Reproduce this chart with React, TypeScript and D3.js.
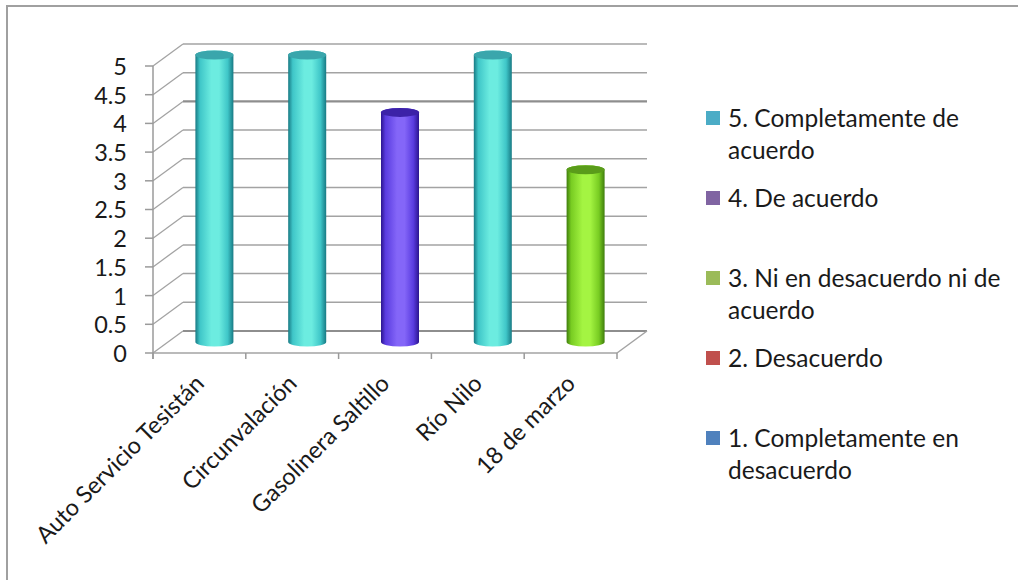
import React from "react";
import * as d3 from "d3";

// Survey results per service station (1–5 Likert scale)
const categories = [
  "Auto Servicio Tesistán",
  "Circunvalación",
  "Gasolinera Saltillo",
  "Río Nilo",
  "18 de marzo",
];
const ratings = [5, 5, 4, 5, 3];

// Legend entries, one per rating level
const legendLevels = [5, 4, 3, 2, 1];
const legendLabels = [
  ["5. Completamente de", "acuerdo"],
  ["4. De acuerdo"],
  ["3. Ni en desacuerdo ni de", "acuerdo"],
  ["2. Desacuerdo"],
  ["1. Completamente en", "desacuerdo"],
];
const legendColors = ["#4bacc6", "#8064a2", "#9bbb59", "#c0504d", "#4f81bd"];

const yTicks = [0, 0.5, 1, 1.5, 2, 2.5, 3, 3.5, 4, 4.5, 5];

// Cylinder shading per rating level: edge, mid, highlight and top cap
const cylinderShades: Record<number, { dark: string; mid: string; light: string; cap: string }> = {
  5: { dark: "#187a84", mid: "#3fc6c8", light: "#6cece0", cap: "#3aa6ac" },
  4: { dark: "#2c1590", mid: "#5a3ce0", light: "#8466f8", cap: "#3c22a8" },
  3: { dark: "#3f7d0c", mid: "#78cc22", light: "#a4f442", cap: "#5a9c1a" },
  2: { dark: "#7a2020", mid: "#b04040", light: "#e07070", cap: "#902c2c" },
  1: { dark: "#1c3f78", mid: "#3c6cb0", light: "#6c9ce0", cap: "#2c5090" },
};

const FONT = "Lato, 'Open Sans', sans-serif";

export default function App() {
  const W = 1018;
  const H = 580;

  // Front plane of the 3-D box and its depth offset
  const x0 = 153;
  const x1 = 617;
  const depthX = 30;
  const depthY = -22;

  const y = d3.scaleLinear().domain([0, 5]).range([353, 66]);
  const x = d3.scaleBand<string>().domain(categories).range([x0, x1]);

  const rx = 19;
  const ry = 4.5;
  const gridColor = "#a3a3a3";

  return (
    <svg
      width={W}
      height={H}
      style={{ position: "fixed", left: 0, top: 0, background: "#fff" }}
      fontFamily={FONT}
    >
      <defs>
        {legendLevels.map((lvl) => {
          const s = cylinderShades[lvl];
          return (
            <linearGradient key={lvl} id={`cyl-${lvl}`} x1="0" x2="1" y1="0" y2="0">
              <stop offset="0" stopColor={s.dark} />
              <stop offset="0.12" stopColor={s.mid} />
              <stop offset="0.42" stopColor={s.light} />
              <stop offset="0.62" stopColor={s.light} />
              <stop offset="0.85" stopColor={s.mid} />
              <stop offset="1" stopColor={s.dark} />
            </linearGradient>
          );
        })}
      </defs>

      {/* chart frame */}
      <rect x={7} y={6} width={1100} height={700} fill="none" stroke="#a0a0a0" strokeWidth={2} />

      {/* back wall gridlines */}
      {yTicks.map((t) => (
        <line
          key={`g${t}`}
          x1={x0 + depthX}
          x2={x1 + depthX}
          y1={y(t) + depthY}
          y2={y(t) + depthY}
          stroke={t === 4 || t === 0 ? "#8e8e8e" : gridColor}
          strokeWidth={t === 4 || t === 0 ? 2.2 : 1.5}
        />
      ))}

      {/* side wall diagonals */}
      {yTicks.map((t) => (
        <line
          key={`s${t}`}
          x1={x0}
          x2={x0 + depthX}
          y1={y(t)}
          y2={y(t) + depthY}
          stroke={gridColor}
          strokeWidth={1.3}
        />
      ))}

      {/* floor */}
      <line x1={x0} x2={x1} y1={y(0)} y2={y(0)} stroke={gridColor} strokeWidth={1.5} />
      <line x1={x1} x2={x1 + depthX} y1={y(0)} y2={y(0) + depthY} stroke={gridColor} strokeWidth={1.5} />

      {/* value axis */}
      <line x1={x0} x2={x0} y1={y(5)} y2={y(0) + 6} stroke="#9a9a9a" strokeWidth={1.5} />
      {yTicks.map((t) => (
        <g key={`yt${t}`}>
          <line x1={x0 - 8} x2={x0} y1={y(t)} y2={y(t)} stroke="#9a9a9a" strokeWidth={1.5} />
          <text
            x={127}
            y={y(t)}
            dy="0.38em"
            textAnchor="end"
            fontSize={23.5}
            fill="#1a1a1a"
          >
            {String(t)}
          </text>
        </g>
      ))}

      {/* category ticks */}
      {d3.range(categories.length + 1).map((i) => {
        const xx = x0 + i * x.step();
        return <line key={`ct${i}`} x1={xx} x2={xx} y1={y(0)} y2={y(0) + 6} stroke="#9a9a9a" strokeWidth={1.5} />;
      })}

      {/* cylinders */}
      {categories.map((c, i) => {
        const v = ratings[i];
        const cx = (x(c) as number) + x.bandwidth() / 2 + depthX / 2;
        const yb = y(0) + depthY / 2;
        const yt = y(v) + depthY / 2;
        const l = cx - rx;
        const r = cx + rx;
        const body = `M${l},${yt} L${l},${yb} A${rx},${ry} 0 0 0 ${r},${yb} L${r},${yt} A${rx},${ry} 0 0 0 ${l},${yt} Z`;
        return (
          <g key={c}>
            <path d={body} fill={`url(#cyl-${v})`} />
            <ellipse cx={cx} cy={yt} rx={rx} ry={ry} fill={cylinderShades[v].cap} />
          </g>
        );
      })}

      {/* category labels */}
      {categories.map((c) => {
        const ax = (x(c) as number) + x.bandwidth() / 2 + 6;
        const ay = 385;
        return (
          <text
            key={`cl${c}`}
            x={ax}
            y={ay}
            textAnchor="end"
            fontSize={23.5}
            fill="#1a1a1a"
            transform={`rotate(-45 ${ax} ${ay})`}
          >
            {c}
          </text>
        );
      })}

      {/* legend */}
      {legendLevels.map((lvl, i) => {
        const tops = [118, 198, 278, 358, 438];
        const cy = tops[i];
        return (
          <g key={`lg${lvl}`}>
            <rect x={706} y={cy - 7} width={14} height={14} fill={legendColors[i]} />
            {legendLabels[i].map((ln, j) => (
              <text key={j} x={728} y={cy + j * 32} dy="0.36em" fontSize={24.5} fill="#1a1a1a">
                {ln}
              </text>
            ))}
          </g>
        );
      })}
    </svg>
  );
}
